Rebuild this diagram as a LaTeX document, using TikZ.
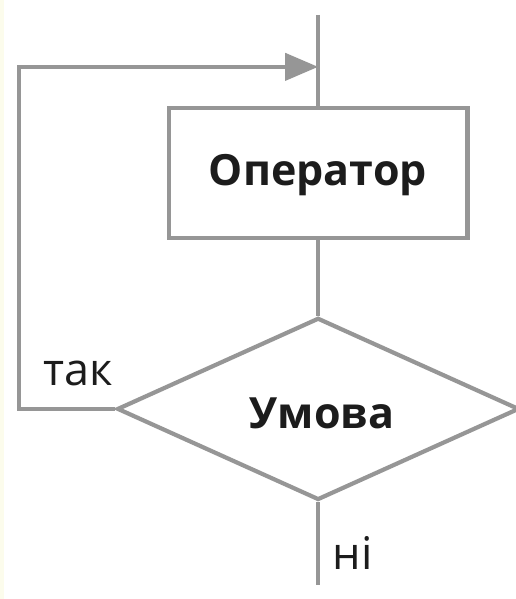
\documentclass[tikz,border=0pt]{standalone}
\usepackage{fontspec}
\setmainfont{Open Sans}
\usetikzlibrary{arrows.meta, shapes.geometric}
\definecolor{linegray}{RGB}{150,150,150}
\definecolor{textblack}{RGB}{28,28,28}
\definecolor{paperedge}{RGB}{252,252,236}
\tikzset{
  flowline/.style={draw=linegray, line width=4.2pt},
  opbox/.style={rectangle, flowline, minimum width=10.50cm, minimum height=4.57cm},
  condbox/.style={diamond, flowline, inner sep=0pt, minimum width=14.13cm, minimum height=6.40cm},
  flowlabel/.style={font=\fontsize{45}{54}\selectfont, text=textblack, inner sep=0pt},
  boldlabel/.style={font=\fontsize{43}{52}\selectfont\bfseries, text=textblack, inner sep=0pt},
}

\begin{document}
\begin{tikzpicture}
  \useasboundingbox (0,0) rectangle (18.10,21.05);
  \fill[paperedge] (0,0) rectangle (0.15,21.05);

  \coordinate (entry) at (11.18,20.53);
  \coordinate (merge) at (11.18,18.70);
  \coordinate (exit) at (11.18,0.49);
  \coordinate (corner) at (0.67,6.68);

  \node[opbox] (oper) at (11.18,14.96) {};
  \node[boldlabel] (opertext) at (11.17,14.90) {Оператор};
  \node[condbox] (cond) at (11.18,6.68) {};
  \node[boldlabel] (condtext) at (11.32,6.52) {Умова};
  \node[flowlabel, anchor=base west] (yes) at (1.52,7.49) {так};
  \node[flowlabel, anchor=base west] (no) at (11.68,1.05) {ні};

  \draw[flowline] (entry) -- (oper.north);
  \draw[flowline] (oper.south) -- (cond.north);
  \draw[flowline] (cond.south) -- (exit);
  \draw[flowline, -{Triangle[length=33pt,width=27pt]}] (cond.west) -- (corner) |- (merge);
\end{tikzpicture}
\end{document}
